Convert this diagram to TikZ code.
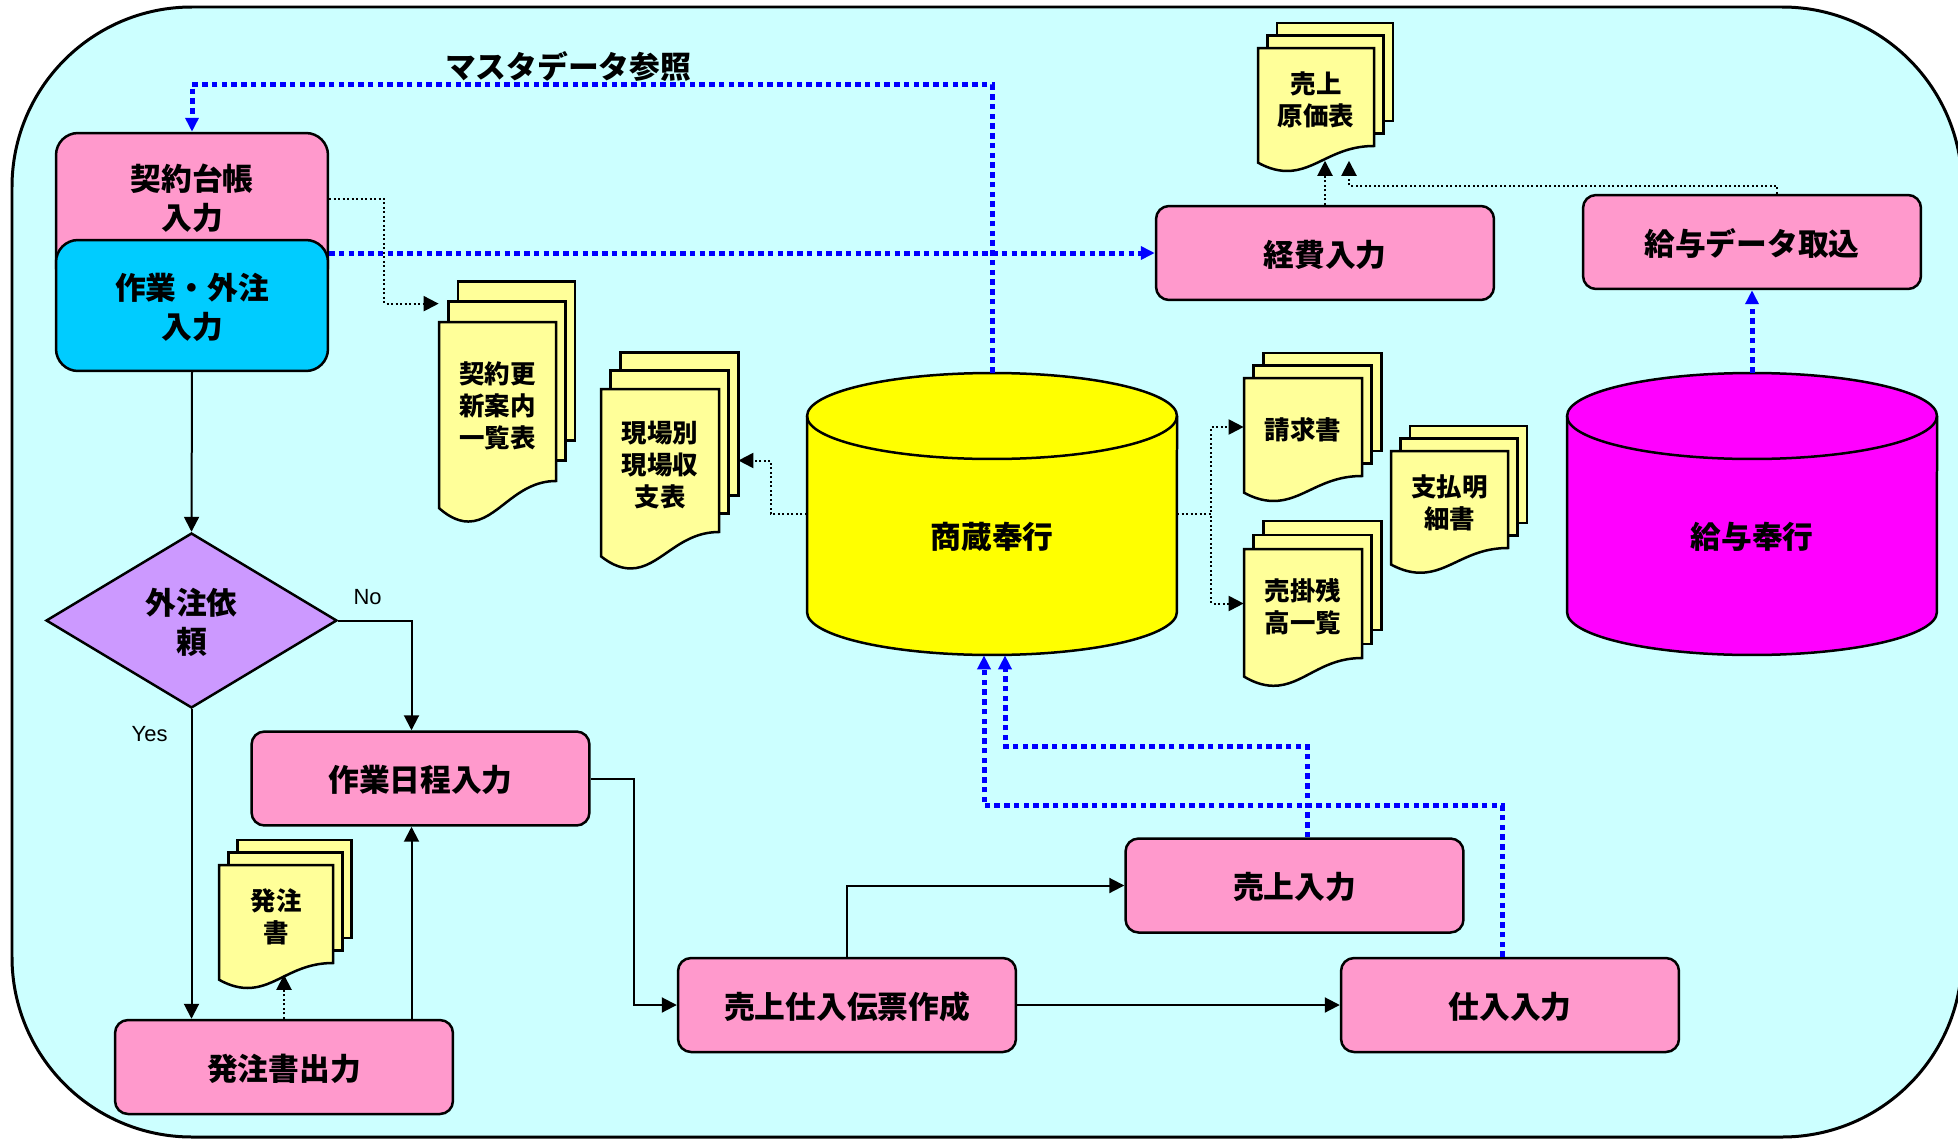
\documentclass[tikz,border=0pt]{standalone}
\usepackage{fontspec}
\newfontfamily\jpfont{Noto Sans CJK JP}
\newfontfamily\latinfont{Liberation Sans}
\usepackage{tikz}
\usetikzlibrary{shapes.geometric}
\usetikzlibrary{arrows.meta}
\usetikzlibrary{calc}
\usepackage{xcolor}
\definecolor{bgcyan}{RGB}{204, 255, 255}
\definecolor{pinkbox}{RGB}{255, 153, 204}
\definecolor{cyanbox}{RGB}{0, 204, 255}
\definecolor{lilac}{RGB}{204, 153, 255}
\definecolor{paper}{RGB}{255, 255, 153}
\definecolor{dbyellow}{RGB}{255, 255, 0}
\definecolor{dbmagenta}{RGB}{255, 0, 255}
\definecolor{linkblue}{RGB}{0, 0, 255}

\newcommand{\boxfont}{\jpfont\bfseries\fontsize{17.5}{22}\selectfont}
\newcommand{\docfont}{\jpfont\bfseries\fontsize{14.5}{18.2}\selectfont}

\tikzset{
    proc/.style={draw, fill=pinkbox, line width=0.05cm, rounded corners=0.26cm, minimum width=6.76cm, minimum height=1.88cm, inner sep=0, text depth=0pt, align=center, font=\boxfont},
    decide/.style={diamond, draw, fill=lilac, line width=0.05cm, minimum width=5.82cm, minimum height=3.5cm, inner sep=0, text depth=0pt, align=center, font=\boxfont},
    docsheet/.style={draw, fill=paper, line width=0.05cm},
    doctext/.style={inner sep=0, align=center, font=\docfont},
    disknode/.style={inner sep=0, minimum width=7.4cm, minimum height=5.64cm},
    yesno/.style={inner sep=0, font=\latinfont\fontsize{12.5}{15}\selectfont},
    flow/.style={line width=0.04cm, -{Triangle[length=0.3cm, width=0.3cm]}},
    blkdot/.style={line width=0.04cm, dash pattern=on 0.04cm off 0.05cm, -{Triangle[length=0.3cm, width=0.3cm]}},
    bluedot/.style={linkblue, line width=0.1cm, dash pattern=on 0.11cm off 0.085cm, -{Triangle[length=0.28cm, width=0.26cm]}}
}

% stack of three sheets: name, x, y (front top left), width, height, text
\newcommand{\docstack}[6]{
    \foreach \k in {2,1} {
        \draw[docsheet] ({#2+\k*0.082*#4},{#3-\k*0.128*#5}) rectangle ++(#4,#5);
    }
    \draw[docsheet] (#2,#3) -- ++(#4,0) -- ++(0,#5)
        .. controls ({#2+0.65*#4},{#3+#5}) and ({#2+0.5*#4},{#3+1.255*#5}) .. ({#2+0.25*#4},{#3+1.255*#5})
        .. controls ({#2+0.15*#4},{#3+1.255*#5}) and ({#2+0.06*#4},{#3+1.21*#5}) .. (#2,{#3+1.17*#5}) -- cycle;
    \node[inner sep=0, minimum width=#4*0.02cm, minimum height=#5*0.02cm,
        label={[doctext, yshift=-#5*0.0006cm]center:{#6}}] (#1) at ({#2+0.5*#4},{#3+0.5*#5}) {};
}

% database drum: name, centre x, colour, text
\newcommand{\dbdisk}[4]{
    \filldraw[fill=#3, line width=0.05cm] ({#2-185},416) -- ({#2-185},612)
        arc[start angle=180, end angle=360, x radius=3.7cm, y radius=0.86cm] -- ({#2+185},416)
        arc[start angle=0, end angle=180, x radius=3.7cm, y radius=0.86cm] -- cycle;
    \draw[line width=0.05cm] ({#2-185},416) arc[start angle=180, end angle=360, x radius=3.7cm, y radius=0.86cm];
    \node[disknode, label={[font=\boxfont, yshift=-0.46cm]center:#4}] (#1) at (#2,514) {};
}

\begin{document}
\begin{tikzpicture}[x=0.02cm, y=-0.02cm]
        \useasboundingbox (0,0) rectangle (1958,1139);
        \draw[fill=bgcyan, line width=0.06cm, rounded corners=3.6cm] (12,7) rectangle (1962,1137);

        \node[proc, rounded corners=0.44cm, minimum width=5.44cm, minimum height=3.12cm,
            label={[font=\boxfont, align=center, text depth=0pt, yshift=0.29cm]center:{契約台帳\\入力}}] (keiyaku) at (192,211) {};
        \node[proc, fill=cyanbox, rounded corners=0.44cm, minimum width=5.44cm, minimum height=2.62cm] (sagyo) at (192,305.5) {作業・外注\\入力};
        \node[decide] (gaichu) at (191.5,620.5) {外注依\\頼};
        \node[proc] (nittei) at (420.5,778.5) {作業日程入力};
        \node[proc] (hatchu) at (284,1067) {発注書出力};
        \node[proc] (denpyo) at (847,1005) {売上仕入伝票作成};
        \node[proc] (uriage) at (1294.5,885.5) {売上入力};
        \node[proc] (shiire) at (1510,1005) {仕入入力};
        \node[proc] (keihi) at (1325,253) {経費入力};
        \node[proc] (kyuyotori) at (1752,242) {給与データ取込};

        \dbdisk{shozo}{992}{dbyellow}{商蔵奉行}
        \dbdisk{kyuyo}{1752}{dbmagenta}{給与奉行}

        \docstack{keiyakudoc}{439}{322}{117}{159}{契約更\\新案内\\一覧表}
        \docstack{genbadoc}{601}{389}{118}{143}{現場別\\現場収\\支表}
        \docstack{genkadoc}{1258}{48}{116}{98}{売上\\原価表}
        \docstack{seikyudoc}{1244}{378}{118}{98}{請求書}
        \docstack{urikakedoc}{1244}{549}{118}{109}{売掛残\\高一覧}
        \docstack{shiharaidoc}{1391}{451}{117}{97}{支払明\\細書}
        \docstack{hatchudoc}{219}{865}{114}{98}{発注\\書}

        \node[font=\boxfont, text depth=0pt] (master) at (568,65) {マスタデータ参照};

        \draw[flow] (sagyo.south) -- (gaichu.north);
        \draw[flow] (gaichu.east) -| ([xshift=-0.18cm]nittei.north) node[yesno, pos=0.2, above=0.3cm] (nolbl) {No};
        \draw[flow] (gaichu.south) -- (gaichu.south |- hatchu.north) node[yesno, pos=0.08, left=0.46cm] (yeslbl) {Yes};
        \draw[flow] ([xshift=-0.18cm]nittei.south |- hatchu.north) -- ([xshift=-0.18cm]nittei.south);
        \draw[flow] (nittei.east) -- ++(43,0) |- (denpyo.west);
        \draw[flow] (denpyo.north) |- (uriage.west);
        \draw[flow] (denpyo.east) -- (shiire.west);

        \draw[blkdot] (hatchu.north) -- ++(0,-44);
        \draw[blkdot] ([yshift=0.24cm]keiyaku.east) -- ++(55,0) |- ([yshift=0.36cm]keiyakudoc.north west);
        \draw[blkdot] (shozo.west) -- ++(-36,0) |- ([xshift=0.38cm]genbadoc.east);
        \draw[blkdot] (shozo.east) -- ++(34,0) |- (seikyudoc.west);
        \draw[blkdot] (shozo.east) -- ++(34,0) |- (urikakedoc.west);
        \draw[blkdot] (keihi.north) -- ++(0,-44);
        \draw[blkdot] ([xshift=0.5cm]kyuyotori.north) |- ++(-428,-8) -- ++(0,-25);

        \draw[bluedot] (shozo.north) |- ([yshift=0.94cm]keiyaku.north) -- (keiyaku.north);
        \draw[bluedot] (sagyo.east |- keihi.west) -- (keihi.west);
        \draw[bluedot] ([xshift=0.26cm]uriage.north) -- ++(0,-91) -| ([xshift=0.26cm]shozo.south);
        \draw[bluedot] ([xshift=-0.16cm]shiire.north) -- ++(0,-151) -| ([xshift=-0.16cm]shozo.south);
        \draw[bluedot] (kyuyo.north) -- (kyuyotori.south);
    \end{tikzpicture}
\end{document}
